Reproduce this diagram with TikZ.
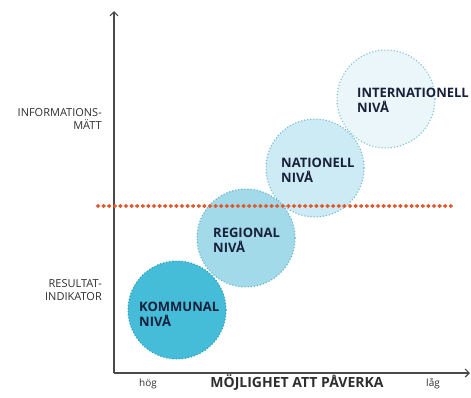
\documentclass[tikz,border=0pt]{standalone}
\usepackage{fontspec}
\setmainfont{Open Sans}
\usepackage{xcolor}
\usetikzlibrary{decorations.markings,arrows.meta}
\definecolor{axisgray}{HTML}{4A4A4A}
\definecolor{labelgray}{HTML}{2E2E2E}
\definecolor{navytext}{HTML}{18203A}
\definecolor{redline}{HTML}{E0582C}
\definecolor{kommfill}{HTML}{45BCD8}
\definecolor{kommdraw}{HTML}{2C9EBD}
\definecolor{regfill}{HTML}{A2DAEA}
\definecolor{regdraw}{HTML}{5FB3CA}
\definecolor{natfill}{HTML}{CDEBF4}
\definecolor{natdraw}{HTML}{6DB9CE}
\definecolor{intfill}{HTML}{EBF6FB}
\definecolor{intdraw}{HTML}{7CC2D5}
\tikzset{
  levelcircle/.style={circle,minimum size=98pt,inner sep=0pt,dotted,line width=1.1pt},
  leveltext/.style={anchor=west,align=left,inner sep=0pt,text=navytext,font=\bfseries\fontsize{13}{15}\selectfont},
  axislabel/.style={anchor=east,align=right,inner sep=0pt,text=labelgray,font=\fontsize{11}{13}\selectfont},
  axisline/.style={draw=axisgray,line width=1.2pt,-{Straight Barb[length=4pt,width=8pt]}},
  diamondline/.style={draw=none,postaction={decorate,decoration={markings,mark=between positions 0 and 1 step 5.6pt with {\fill[redline] (-2.3pt,0) -- (0,2.1pt) -- (2.3pt,0) -- (0,-2.1pt) -- cycle;}}}}
}
\begin{document}
\begin{tikzpicture}[x=1pt,y=-1pt]
    \useasboundingbox (0,0) rectangle (471,397);
    % axes
    \coordinate (origo) at (114,373);
    \coordinate (ytop) at (114,11);
    \coordinate (xend) at (470,373);
    \draw[axisline] (origo) -- (ytop);
    \draw[axisline] (origo) -- (xend);
    % levels
    \node[levelcircle,fill=kommfill,draw=kommdraw] (kommunal) at (177,310) {};
    \node[levelcircle,fill=regfill,draw=regdraw] (regional) at (246,238) {};
    \node[levelcircle,fill=natfill,draw=natdraw] (nationell) at (315,168) {};
    \node[levelcircle,fill=intfill,draw=intdraw] (internationell) at (386,99) {};
    % boundary
    \coordinate (gransv) at (98,206);
    \coordinate (gransh) at (453,206);
    \draw[diamondline] (gransv) -- (gransh);
    % texts
    \node[leveltext] (kommunal-txt) at ([xshift=-38pt,yshift=-4pt]kommunal.center) {KOMMUNAL\\NIVÅ};
    \node[leveltext] (regional-txt) at ([xshift=-33pt,yshift=-2pt]regional.center) {REGIONAL\\NIVÅ};
    \node[leveltext] (nationell-txt) at ([xshift=-34pt,yshift=-2pt]nationell.center) {NATIONELL\\NIVÅ};
    \node[leveltext] (internationell-txt) at ([xshift=-29pt,yshift=-1pt]internationell.center) {INTERNATIONELL\\NIVÅ};
    \node[axislabel] (info) at (102,119) {INFORMATIONS-\\MÄTT};
    \node[axislabel] (resultat) at (102,290) {RESULTAT-\\INDIKATOR};
    \node[text=labelgray,font=\fontsize{10}{12}\selectfont] (hog) at (148,384) {hög};
    \node[text=labelgray,font=\fontsize{10}{12}\selectfont] (lag) at (433,384) {låg};
    \node[text=labelgray,font=\bfseries\fontsize{14}{16}\selectfont] (mojlighet) at (297,383) {MÖJLIGHET ATT PÅVERKA};
\end{tikzpicture}
\end{document}
